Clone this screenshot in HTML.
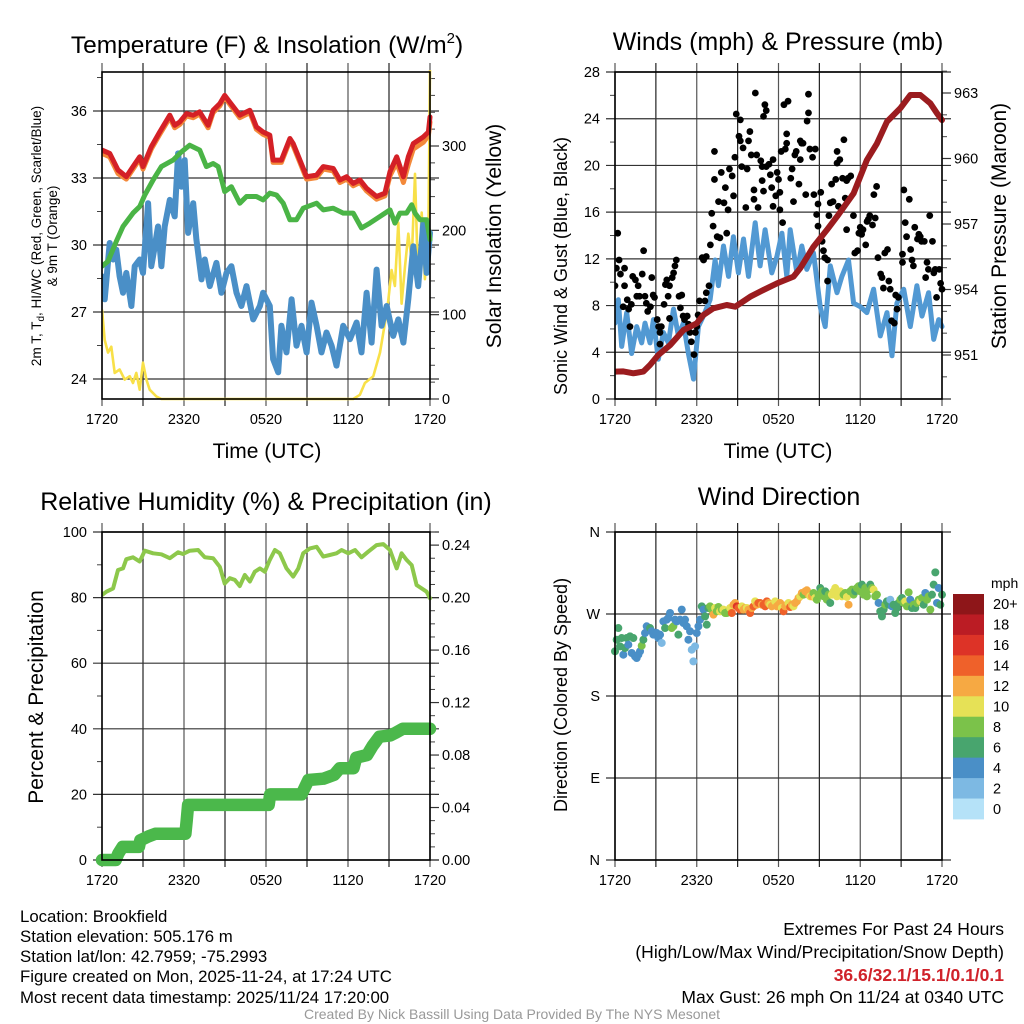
<!DOCTYPE html>
<html><head><meta charset="utf-8"><title>Brookfield Mesonet Meteogram</title>
<style>
html,body{margin:0;padding:0;background:#fff;}
svg{display:block;font-family:"Liberation Sans",Arial,sans-serif;}
</style></head>
<body>
<svg id="chart" width="1024" height="1024" viewBox="0 0 1024 1024" xmlns="http://www.w3.org/2000/svg">
<rect width="1024" height="1024" fill="#fff"/>
<g id="layer"></g>
<!-- titles -->
<text x="267" y="53" font-size="24.5" text-anchor="middle">Temperature (F) &amp; Insolation (W/m<tspan dy="-10" font-size="15">2</tspan><tspan dy="10">)</tspan></text>
<text x="778" y="50" font-size="25" text-anchor="middle">Winds (mph) &amp; Pressure (mb)</text>
<text x="266" y="510" font-size="25" text-anchor="middle">Relative Humidity (%) &amp; Precipitation (in)</text>
<text x="779" y="505" font-size="25" text-anchor="middle">Wind Direction</text>
<!-- axis titles -->
<text x="267" y="458" font-size="21" text-anchor="middle">Time (UTC)</text>
<text x="778" y="458" font-size="21" text-anchor="middle">Time (UTC)</text>
<text transform="translate(41,236) rotate(-90)" font-size="13.5" text-anchor="middle">2m T, T<tspan dy="3" font-size="10">d</tspan><tspan dy="-3">, HI/WC (Red, Green, Scarlet/Blue)</tspan></text>
<text transform="translate(57,236) rotate(-90)" font-size="13.5" text-anchor="middle">&amp; 9m T (Orange)</text>
<text transform="translate(501,236) rotate(-90)" font-size="21" text-anchor="middle">Solar Insolation (Yellow)</text>
<text transform="translate(567,266) rotate(-90)" font-size="18" text-anchor="middle">Sonic Wind &amp; Gust (Blue, Black)</text>
<text transform="translate(1006,226) rotate(-90)" font-size="21" text-anchor="middle">Station Pressure (Maroon)</text>
<text transform="translate(43,697) rotate(-90)" font-size="21" text-anchor="middle">Percent &amp; Precipitation</text>
<text transform="translate(567,695) rotate(-90)" font-size="18" text-anchor="middle">Direction (Colored By Speed)</text>
<!-- colorbar label -->
<text x="991" y="588" font-size="14">mph</text>
<!-- footer text -->
<g font-size="16.8">
<text x="20" y="922">Location: Brookfield</text>
<text x="20" y="942">Station elevation: 505.176 m</text>
<text x="20" y="962">Station lat/lon: 42.7959; -75.2993</text>
<text x="20" y="982">Figure created on Mon, 2025-11-24, at 17:24 UTC</text>
<text x="20" y="1003">Most recent data timestamp: 2025/11/24 17:20:00</text>
</g>
<g font-size="17.5" text-anchor="end">
<text x="1004" y="935">Extremes For Past 24 Hours</text>
<text x="1004" y="958">(High/Low/Max Wind/Precipitation/Snow Depth)</text>
<text x="1004" y="981" fill="#d0222a" font-weight="bold">36.6/32.1/15.1/0.1/0.1</text>
<text x="1004" y="1003">Max Gust: 26 mph On 11/24 at 0340 UTC</text>
</g>
<text x="512" y="1019" font-size="14" fill="#999" text-anchor="middle">Created By Nick Bassill Using Data Provided By The NYS Mesonet</text>
</svg>
<script>
// ---------- DATA ----------
const timeLabels = ["1720","2320","0520","1120","1720"];
const tempTicks = [24,27,30,33,36];
const solarTicks = [0,100,200,300];
const windTicks = [0,4,8,12,16,20,24,28];
const pressTicks = [951,954,957,960,963];
const rhTicks = [0,20,40,60,80,100];
const precipTicks = ["0.00","0.04","0.08","0.12","0.16","0.20","0.24"];
const dirTickLabels = ["N","E","S","W","N"];
const dirTicks = [0,90,180,270,360];
const speedBins = ["0","2","4","6","8","10","12","14","16","18","20+"];
const speedColors = ["#b5e2f8","#7db9e3","#4a8fc7","#48a56e","#7bc24a","#e6e156","#f6a943","#ef612a","#dd3327","#bb1c24","#8e1619"];

const airT_h = [0,0.56,1.17,1.78,2.27,2.76,3.0,3.61,4.22,4.96,5.32,5.69,6.18,6.67,7.15,7.76,8.13,8.62,8.98,9.35,10.08,10.82,11.3,11.79,12.28,12.52,13.13,13.75,13.99,14.48,14.97,15.7,16.19,16.92,17.41,17.9,18.38,18.87,19.36,20.09,20.7,21.07,21.56,22.05,22.41,22.78,23.51,23.88,24];
const airT_v = [34.25,34.10,33.36,33.06,33.51,33.95,33.51,34.40,35.06,35.81,35.36,35.51,35.88,35.81,35.96,35.36,36.03,36.33,36.70,36.40,35.81,36.03,35.29,35.06,34.92,33.80,33.80,34.77,34.54,33.80,33.06,33.13,33.51,33.43,32.91,33.06,32.76,32.91,32.54,32.17,32.32,33.28,33.95,33.06,33.95,34.54,34.84,35.06,35.73];
const t9m_v = [34.10,33.95,33.20,32.95,33.40,33.85,33.40,34.30,34.95,35.70,35.25,35.40,35.78,35.70,35.86,35.25,35.93,36.23,36.62,36.30,35.70,35.93,35.18,34.95,34.82,33.70,33.70,34.67,34.44,33.70,32.95,33.02,33.40,33.32,32.80,32.95,32.65,32.80,32.42,32.05,32.20,33.10,33.70,32.80,33.60,34.30,34.60,34.90,35.50];
const dew_h = [0,0.44,1.05,1.54,2.27,2.76,3.13,3.74,4.35,5.2,5.81,6.42,7.15,7.64,8.13,8.5,8.98,9.47,10.08,10.57,11.3,11.79,12.28,12.77,13.26,13.75,14.23,14.72,15.7,16.19,16.92,17.65,18.38,18.99,19.6,20.34,21.07,21.43,21.8,22.29,22.66,22.9,23.27,23.75,24];
const dew_v = [29.05,29.27,30.16,30.83,31.43,31.72,32.24,32.91,33.51,33.80,34.17,34.47,34.25,33.51,33.65,33.51,32.39,32.61,31.87,32.17,32.17,32.02,32.32,32.24,31.87,31.13,31.13,31.65,31.87,31.57,31.65,31.43,31.43,30.76,30.98,31.28,31.57,30.98,31.43,31.43,31.80,31.43,31.13,31.13,30.24];
const wc_h = [0,0.2,0.56,0.81,1.05,1.29,1.54,1.78,2.15,2.39,2.76,3.0,3.37,3.61,3.86,4.1,4.35,4.59,4.96,5.32,5.57,5.81,6.05,6.3,6.67,6.91,7.28,7.52,7.89,8.37,8.74,9.11,9.47,9.84,10.2,10.57,11.06,11.55,11.79,12.28,12.52,12.89,13.13,13.5,13.87,14.23,14.6,14.97,15.33,15.7,16.06,16.43,16.8,17.16,17.65,18.14,18.63,18.99,19.36,19.73,20.09,20.46,20.83,21.31,21.68,22.05,22.41,22.78,23.14,23.51,23.75,24];
const wc_v = [28.60,27.57,30.09,29.35,29.79,28.60,27.86,28.75,27.27,29.05,29.35,28.75,31.87,29.05,29.94,30.83,29.05,30.83,32.02,31.28,34.10,32.61,33.80,30.54,31.87,30.24,28.46,29.35,28.16,29.20,27.86,28.75,29.05,27.86,27.27,28.16,26.67,27.27,27.86,27.27,24.89,24.30,26.38,25.19,27.57,25.49,26.38,25.19,27.42,26.38,25.19,26.08,25.49,24.60,26.38,25.78,26.53,25.19,27.86,25.63,28.90,26.38,27.27,25.93,26.67,25.63,27.57,29.94,28.16,30.98,28.75,30.54];
const solar_h = [0,0.2,0.44,0.68,0.93,1.29,1.66,2.03,2.27,2.51,2.76,3.0,3.25,3.49,3.98,4.35,18.38,18.87,19.24,19.85,20.34,20.7,20.95,21.19,21.43,21.68,21.92,22.17,22.41,22.66,22.9,23.14,23.39,23.63,23.88,24];
const solar_v = [106,70,55,62,31,35,23,27,19,31,11,43,23,11,3,0,0,5,19,27,55,90,117,153,134,209,113,157,196,164,267,134,221,142,198,390];

const press_h = [0,0.61,1.35,2.08,2.57,3.18,4.04,5.02,6.0,6.49,7.22,8.2,8.82,9.92,10.9,11.88,13.1,13.59,14.57,15.55,16.29,17.51,18.49,19.23,19.96,20.94,21.67,22.41,23.14,23.63,24];
const press_v = [950.24,950.25,950.16,950.24,950.54,951.0,951.45,952.14,952.45,952.83,953.14,953.29,953.21,953.67,953.98,954.28,954.59,954.97,955.96,956.73,957.34,958.40,959.93,960.69,961.69,962.30,962.91,962.91,962.53,962.07,961.76];
const wind_h = [0,0.24,0.49,0.86,1.22,1.59,1.96,2.2,2.57,2.82,3.18,3.55,3.92,4.29,4.65,5.02,5.39,5.76,6.12,6.49,6.98,7.35,7.59,7.96,8.33,8.69,9.06,9.43,9.8,10.29,10.65,11.02,11.51,11.88,12.25,12.61,12.86,13.35,13.71,14.08,14.57,15.06,15.43,15.8,16.29,16.65,17.14,17.51,18.0,18.49,18.98,19.47,19.96,20.33,20.69,21.19,21.67,22.16,22.53,23.02,23.39,23.76,24];
const wind_v = [6.5,8.5,4.5,7.4,3.9,6.2,4.8,6.5,4.8,6.8,3.4,5.7,4.8,7.7,5.4,6.5,3.9,1.7,6.2,7.1,8.5,11.9,9.7,13.1,10.5,13.9,10.8,13.7,10.5,15.1,11.4,14.5,10.8,12.2,14.2,10.5,14.5,10.8,13.1,11.1,12.5,7.9,6.2,11.4,9.1,10.5,11.9,8.2,7.9,7.4,9.4,5.4,7.4,3.7,8.2,9.4,6.2,9.7,7.1,9.1,5.1,6.8,6.2];
const gust_h = [0,0.1,0.2,0.3,0.4,0.6,0.7,0.7,0.9,1.0,1.1,1.2,1.3,1.5,1.6,1.7,1.8,2.0,2.1,2.2,2.3,2.4,2.6,2.7,2.8,2.9,3.1,3.2,3.3,3.3,3.4,3.6,3.7,3.8,3.9,4.0,4.0,4.2,4.3,4.4,4.5,4.7,4.8,4.9,5.0,5.1,5.3,5.4,5.5,5.6,5.8,5.9,6.0,6.1,6.2,6.4,6.5,6.6,6.7,6.7,6.9,7.0,7.1,7.2,7.3,7.3,7.5,7.6,7.7,7.8,8.0,8.1,8.2,8.3,8.4,8.6,8.7,8.8,8.9,9.1,9.2,9.2,9.3,9.4,9.6,9.7,9.8,9.9,10.0,10.2,10.2,10.3,10.4,10.5,10.7,10.8,10.8,10.9,10.9,11.0,11.1,11.1,11.3,11.4,11.5,11.6,11.6,11.8,11.9,12.0,12.1,12.1,12.2,12.3,12.4,12.5,12.6,12.6,12.7,12.9,13.0,13.1,13.2,13.3,13.5,13.6,13.6,13.7,13.8,14.0,14.1,14.2,14.2,14.3,14.5,14.6,14.7,14.8,14.9,14.9,15.1,15.2,15.3,15.4,15.6,15.6,15.7,15.8,15.9,16.0,16.2,16.3,16.3,16.4,16.5,16.7,16.8,16.9,17.0,17.0,17.1,17.3,17.5,17.6,17.8,17.9,18.0,18.1,18.2,18.4,18.5,18.6,18.7,18.9,19.0,19.1,19.2,19.3,19.5,19.6,19.7,19.8,20.0,20.1,20.2,20.3,20.5,20.6,20.7,20.8,21.1,21.1,21.2,21.3,21.4,21.6,21.7,21.8,21.9,22.0,22.2,22.3,22.4,22.5,22.7,22.8,22.9,23.0,23.1,23.3,23.4,23.5,23.6,23.8,23.9,24.0];
const gust_v = [9.7,11.2,14.2,11.9,10.7,7.9,9.7,11.2,8.5,7.7,6.2,8.1,10.5,10.2,8.8,9.7,8.8,10.7,12.7,8.8,8.2,7.5,7.9,10.4,8.9,8.7,6.8,6.2,5.7,4.7,6.2,8.1,9.8,10.2,8.8,9.7,6.9,10.4,10.8,11.4,11.9,8.8,7.8,8.9,7.1,6.8,7.1,6.4,5.7,4.9,3.8,5.7,6.2,7.2,8.4,12.1,11.9,8.4,12.2,9.1,9.7,13.2,15.9,14.8,18.8,21.2,13.9,16.9,13.8,19.4,16.8,18.1,14.2,16.2,19.7,19.1,17.4,20.7,24.4,22.5,23.9,22.1,19.9,21.5,16.4,19.7,22.1,22.9,20.9,17.9,17.1,26.2,20.9,16.4,20.4,19.9,18.7,24.2,17.8,25.2,24.7,19.9,20.1,19.2,18.1,16.5,20.5,17.4,19.4,18.8,16.2,17.7,21.2,15.1,25.2,21.4,22.7,21.9,25.5,18.9,19.7,16.9,20.9,21.2,18.4,22.1,20.5,21.9,21.9,17.5,23.8,24.5,26.1,21.4,20.7,17.5,21.4,15.8,14.8,16.7,17.7,13.5,12.7,12.1,11.9,10.1,15.7,16.8,18.4,16.9,18.8,20.2,21.2,16.5,20.5,18.9,22.2,17.2,18.7,14.5,18.9,19.1,15.7,12.5,12.7,14.2,14.7,14.1,14.5,13.2,15.2,15.4,15.7,14.9,17.5,15.5,18.2,12.1,10.7,10.4,9.5,12.5,12.8,10.1,9.4,6.7,6.5,8.9,7.7,8.7,12.4,11.7,17.9,15.1,13.9,17.1,12.8,11.9,11.4,14.7,13.7,14.1,13.9,13.5,13.5,10.4,11.7,11.1,15.7,13.5,10.8,11.1,8.7,11.1,9.9,9.4];

const rh_h = [0,0.32,0.81,1.17,1.54,1.78,2.27,2.76,3.13,3.74,4.35,4.96,5.57,5.93,6.42,7.03,7.52,8.13,8.62,8.98,9.35,9.72,10.08,10.45,10.82,11.18,11.55,11.91,12.28,12.65,13.01,13.5,13.99,14.36,14.72,15.21,15.7,16.19,16.67,17.16,17.53,18.02,18.51,18.99,19.48,20.09,20.58,21.07,21.56,21.92,22.29,22.66,23.02,23.39,23.75,24];
const rh_v = [80.8,81.8,82.8,88.4,88.9,91.7,92.3,91.0,94.3,93.5,93.2,92.0,93.8,93.3,94.3,94.5,92.3,92.0,89.4,84.3,85.9,85.4,83.5,86.9,84.9,87.9,88.9,87.9,91.5,94.5,93.5,88.9,86.4,88.9,93.5,95.0,95.5,92.5,93.0,93.5,94.5,93.5,94.5,92.3,94.0,96.0,96.3,94.5,88.9,93.5,91.5,89.9,83.8,82.8,81.8,79.8];
const precip_h = [0,1.0,1.2,1.5,2.7,2.8,3.4,3.9,6.1,6.2,6.3,12.2,12.3,14.6,15.1,16.2,17.0,17.4,18.4,18.6,19.4,19.8,20.3,21.1,21.5,22.0,24];
const precip_v = [0,0,0.005,0.01,0.01,0.015,0.018,0.02,0.02,0.03,0.042,0.042,0.05,0.05,0.061,0.062,0.065,0.07,0.07,0.078,0.08,0.087,0.094,0.095,0.097,0.10,0.10];

const dir_v = [229,241.8,254.6,234.5,243.6,225.3,232.7,243.6,236.3,245.5,227.2,243.6,223.5,221.7,225.3,229,235.2,241.8,249.1,256.5,252.8,254.6,251,247.3,249.1,249.1,243.6,247.3,238.2,261.9,254.6,263.8,265.6,271.1,254.6,256.5,263.8,261.9,247.3,263.8,274.8,260.1,263.8,256.5,241.8,251,230.8,218,234.5,249.1,256.5,263.8,278.4,274.8,267.4,258.3,276.6,278.4,274.8,269.3,276.6,272.9,277.7,272.9,274.8,274.8,271.1,271.1,272.9,276.6,271.1,280.2,282.1,278.4,276.6,274.8,278.4,274.8,276.6,276.6,274.8,271.1,276.6,278.4,283.9,280.2,282.1,282.1,280.2,280.2,278.4,283.9,282.1,280.2,278.4,280.2,283.9,278.4,280.2,282.1,276.6,272.9,278.4,280.2,282.1,277.7,280.2,278.4,282.1,283.9,287.6,289.4,293.1,291.2,294.9,296,291.2,289.4,289.4,293.1,287.6,285.7,291.2,298.5,294.9,289.4,294.9,285.7,291.2,282.1,291.2,294.9,298.5,289.4,291.2,294.9,289.4,291.2,293.1,288.7,280.2,294.9,296.7,291.2,294.9,298.5,300.4,294.9,302.2,291.2,298.5,289.4,296.7,302.2,298.5,296.7,289.4,291.2,282.1,272.9,267.4,274.8,280.2,283.9,280.2,285.7,278.4,280.2,271.1,276.6,282.1,285.7,287.6,282.1,283.9,278.4,293.8,285.7,276.6,280.2,276.6,282.1,285.7,283.9,287.6,280.2,293.1,285.7,289.4,274.8,291.2,302.2,315.7,282.1,298.5,280.2,291.2];
const dirSpeed_v = [7,7,7,7,7,5,7,7,5,7,5,7,5,5,5,5,9,7,5,5,5,7,5,5,5,5,5,5,3,5,7,5,5,5,9,9,5,5,7,5,5,5,5,5,5,5,3,3,3,5,5,5,7,5,7,7,7,9,9,13,11,9,9,11,9,11,9,9,9,11,15,13,13,17,15,15,11,13,13,11,13,15,13,15,11,13,15,15,13,15,15,15,13,11,13,13,11,13,13,13,11,15,13,13,11,15,13,11,13,13,13,11,13,9,13,13,13,11,13,9,11,9,9,7,9,9,7,9,9,7,11,11,11,11,11,11,11,9,9,11,13,9,9,9,7,9,9,9,7,9,9,9,9,7,9,11,9,9,5,7,7,7,9,7,7,3,5,7,7,7,7,9,7,9,11,9,9,5,7,9,7,9,9,11,9,7,5,9,9,9,7,7,7,5,5,7,7];

// ---------- HELPERS ----------
const NS = "http://www.w3.org/2000/svg";
const layer = document.getElementById('layer');
function mk(tag, attrs, parent){
  const e = document.createElementNS(NS, tag);
  for (const k in attrs) e.setAttribute(k, attrs[k]);
  (parent||layer).appendChild(e);
  return e;
}
function lin(d0,d1,r0,r1){ return v => r0 + (v-d0)*(r1-r0)/(d1-d0); }
function pts(hs, vs, sx, sy){ return hs.map((h,i)=>sx(h).toFixed(1)+","+sy(vs[i]).toFixed(1)).join(" "); }

const panels = [
  {id:"temp", x0:102, x1:430, y0:72, y1:399},
  {id:"wind", x0:615, x1:942, y0:72, y1:399},
  {id:"rh",   x0:102, x1:430, y0:532, y1:860},
  {id:"dir",  x0:615, x1:942, y0:532, y1:860}
];
const X = {}; panels.forEach(p => X[p.id] = lin(0,24,p.x0,p.x1));

const sTemp = lin(24,36,379,111), sSolar = lin(0,300,399,146);
const sWind = lin(0,28,399,72), sPress = lin(951,963,355,93);
const sRH = lin(0,100,860,532), sPrec = lin(0,0.25,860,532);
const sDir = lin(0,360,860,532);

panels.forEach(p => {
  const g = mk('g', {});
  
  
  for (let h=0; h<=24; h+=3){
    const x = X[p.id](h);
    const ln = mk('line', {x1:x, x2:x, y1:p.y0-9, y2:p.y1+7, stroke:(h%6? '#222':'#555'), 'stroke-width':1.2}, g);
    
    
    if (h%6===0){
      const t = mk('text', {x:x, y:p.y1+25, 'font-size':14.5, 'text-anchor':'middle'}, g);
      
      
      t.textContent = timeLabels[h/6];
    }
  }
});
function hGrid(p, ticks, scale, labels, side, name, drawLine){
  const g = mk('g', {});
  
  
  ticks.forEach((v,i) => {
    const y = scale(v);
    if (drawLine){
      const ln = mk('line', {x1:p.x0-9, x2:p.x1+9, y1:y, y2:y, stroke:'#333', 'stroke-width':1.2}, g);
      
      
    } else {
      const tk = mk('line', {x1: side==='left'?p.x0-9:p.x1, x2: side==='left'?p.x0:p.x1+9, y1:y, y2:y, stroke:'#333', 'stroke-width':1.2}, g);
      
      
    }
    const t = mk('text', {x: side==='left'? p.x0-15 : p.x1+12, y:y+5, 'font-size':14.5, 'text-anchor': side==='left'?'end':'start'}, g);
    
    
    t.textContent = labels[i];
  });
}
function minor(p, vals, scale, side){
  vals.forEach(v => {
    const y = scale(v);
    const m = mk('line', {x1: side==='left'?p.x0-5:p.x1, x2: side==='left'?p.x0:p.x1+5, y1:y, y2:y, stroke:'#444', 'stroke-width':1});
    
    
  });
}
const P = {}; panels.forEach(p => P[p.id]=p);
hGrid(P.temp, tempTicks, sTemp, tempTicks, 'left', 'temp-y-axis', true);
hGrid(P.temp, solarTicks, sSolar, solarTicks, 'right', 'solar-y-axis', false);
minor(P.temp, [25.5,28.5,31.5,34.5,37.5], sTemp, 'left');
minor(P.temp, [20,40,60,80,120,140,160,180,220,240,260,280,320,340,360,380], sSolar, 'right');
hGrid(P.wind, windTicks, sWind, windTicks, 'left', 'wind-y-axis', true);
hGrid(P.wind, pressTicks, sPress, pressTicks, 'right', 'pressure-y-axis', false);
minor(P.wind, [2,6,10,14,18,22,26], sWind, 'left');
minor(P.wind, [950,952,953,955,956,958,959,961,962,964], sPress, 'right');
hGrid(P.rh, rhTicks, sRH, rhTicks, 'left', 'rh-y-axis', true);
hGrid(P.rh, precipTicks.map(Number), sPrec, precipTicks, 'right', 'precip-y-axis', false);
minor(P.rh, [10,30,50,70,90], sRH, 'left');
minor(P.rh, [0.01,0.02,0.03,0.05,0.06,0.07,0.09,0.10,0.11,0.13,0.14,0.15,0.17,0.18,0.19,0.21,0.22,0.23,0.25], sPrec, 'right');
hGrid(P.dir, dirTicks, sDir, dirTickLabels, 'left', 'direction-y-axis', true);

const defs = mk('defs', {});
panels.forEach(p => {
  const cp = mk('clipPath', {id:'clip-'+p.id}, defs);
  mk('rect', {x:p.x0, y:p.y0-2, width:p.x1-p.x0+4, height:p.y1-p.y0+4}, cp);
});

// ---------- PANEL 1 ----------
const g1 = mk('g', {'clip-path':'url(#clip-temp)'});


let e;
e = mk('polyline', {points:pts(solar_h, solar_v, X.temp, sSolar), fill:'none', stroke:'#f8e048', 'stroke-width':2.6, 'stroke-linejoin':'round'}, g1);


e = mk('polyline', {points:pts(wc_h, wc_v, X.temp, sTemp), fill:'none', stroke:'#4a8fc7', 'stroke-width':6, 'stroke-linejoin':'round', 'stroke-linecap':'round'}, g1);


e = mk('polyline', {points:pts(dew_h, dew_v, X.temp, sTemp), fill:'none', stroke:'#4ab446', 'stroke-width':5, 'stroke-linejoin':'round', 'stroke-linecap':'round'}, g1);


e = mk('polyline', {points:pts(airT_h, t9m_v, X.temp, sTemp), fill:'none', stroke:'#f3893a', 'stroke-width':5, 'stroke-linejoin':'round', 'stroke-linecap':'round'}, g1);


e = mk('polyline', {points:pts(airT_h, airT_v, X.temp, sTemp), fill:'none', stroke:'#d42026', 'stroke-width':5, 'stroke-linejoin':'round', 'stroke-linecap':'round'}, g1);



// ---------- PANEL 2 ----------
const g2 = mk('g', {'clip-path':'url(#clip-wind)'});


e = mk('polyline', {points:pts(wind_h, wind_v, X.wind, sWind), fill:'none', stroke:'#5299d3', 'stroke-width':5, 'stroke-linejoin':'round', 'stroke-linecap':'round'}, g2);


gust_h.forEach((h,i) => {
  const c = mk('circle', {cx:X.wind(h), cy:sWind(gust_v[i]), r:3.4, fill:'#000'}, g2);
  
  
});
e = mk('polyline', {points:pts(press_h, press_v, X.wind, sPress), fill:'none', stroke:'#9b1c1f', 'stroke-width':6, 'stroke-linejoin':'round', 'stroke-linecap':'round'}, g2);



// ---------- PANEL 3 ----------
const g3 = mk('g', {'clip-path':'url(#clip-rh)'});


e = mk('polyline', {points:pts(rh_h, rh_v, X.rh, sRH), fill:'none', stroke:'#8dc84b', 'stroke-width':4, 'stroke-linejoin':'round', 'stroke-linecap':'round'}, g3);


e = mk('polyline', {points:pts(precip_h, precip_v, X.rh, sPrec), fill:'none', stroke:'#4bb84b', 'stroke-width':12.5, 'stroke-linejoin':'round', 'stroke-linecap':'round'}, layer);



// ---------- PANEL 4 ----------
const g4 = mk('g', {});


const nDir = dir_v.length;
dir_v.forEach((d,i) => {
  const h = i*24/(nDir-1);
  const bin = Math.min(10, Math.floor(dirSpeed_v[i]/2));
  const c = mk('circle', {cx:X.dir(h), cy:sDir(d), r:4, fill:speedColors[bin]}, g4);
  
  
});

const cb = mk('g', {});


const cbTop = 594, cbH = 225/speedBins.length;
speedBins.forEach((lab,i) => {
  const k = speedBins.length-1-i;
  const r = mk('rect', {x:953, y:cbTop+i*cbH, width:31, height:cbH+0.4, fill:speedColors[k]}, cb);
  
  
  const t = mk('text', {x:993, y:cbTop+i*cbH+cbH/2+5, 'font-size':14.5}, cb);
  
  
  t.textContent = speedBins[k];
});

panels.forEach(p => {
  const f = mk('rect', {x:p.x0, y:p.y0, width:p.x1-p.x0, height:p.y1-p.y0, fill:'none', stroke:'#000', 'stroke-width':1.6});
  
  
});
</script>
</body></html>
